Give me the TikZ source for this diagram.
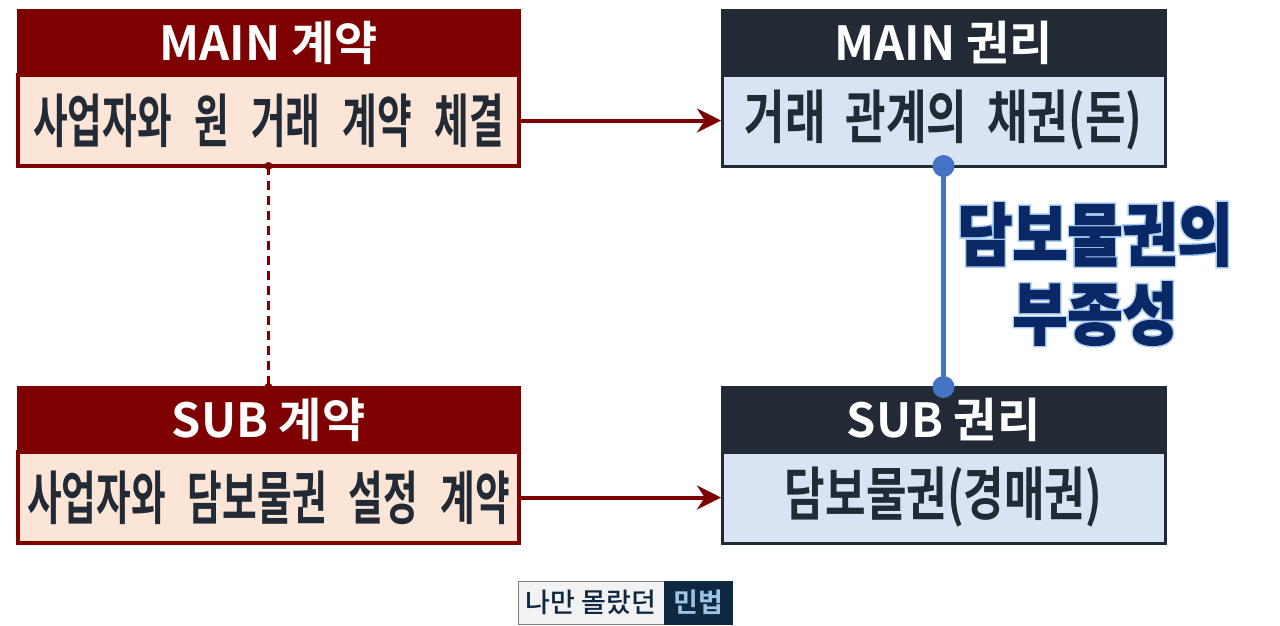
\documentclass[tikz,border=0pt]{standalone}
\usepackage{fontspec}
\setmainfont{Noto Sans CJK KR}
\newfontfamily\krbold{Noto Sans CJK KR Bold}
\newfontfamily\krleft{Noto Sans CJK KR Bold}[FakeStretch=0.65, WordSpace=2.6]
\newfontfamily\krright{Noto Sans CJK KR Bold}[FakeStretch=0.76, WordSpace=2]
\newfontfamily\krfoot{Noto Sans CJK KR Medium}
\newfontfamily\krdisplay{Noto Sans CJK KR Black}[FakeStretch=0.88, FakeBold=1.5]
\newfontfamily\krglow{Noto Sans CJK KR Black}[FakeStretch=0.88, FakeBold=6]
\usetikzlibrary{arrows.meta,positioning,calc}

\definecolor{ctrred}{HTML}{7F0000}
\definecolor{ctrfill}{HTML}{FBE5D6}
\definecolor{rgtnavy}{HTML}{222A35}
\definecolor{rgtfill}{HTML}{DAE3F3}
\definecolor{bodytxt}{HTML}{222A35}
\definecolor{linkblue}{HTML}{4472C4}
\definecolor{accentnavy}{HTML}{0B2866}
\definecolor{glowblue}{HTML}{A9CDF0}
\definecolor{footgray}{HTML}{F2F2F2}
\definecolor{footnavy}{HTML}{0E2841}
\definecolor{footblue}{HTML}{9DC3E6}

\begin{document}
\begin{tikzpicture}[x=1pt, y=-1pt, >={Stealth[length=24pt, width=24pt]},
    ctrhead/.style={fill=ctrred, draw=ctrred, line width=3pt, outer sep=0pt, inner sep=0pt,
        minimum width=501pt, minimum height=65pt, text=white, font=\krbold\fontsize{47}{50}\selectfont},
    ctrbody/.style={fill=ctrfill, draw=ctrred, line width=4pt, outer sep=0pt, inner sep=0pt,
        minimum width=501pt, minimum height=91pt, text=bodytxt, font=\krleft\fontsize{58}{62}\selectfont},
    rgthead/.style={ctrhead, fill=rgtnavy, draw=rgtnavy, minimum width=443pt},
    rgtbody/.style={ctrbody, fill=rgtfill, draw=rgtnavy, line width=3pt, minimum width=443pt,
        font=\krright\fontsize{58}{62}\selectfont},
    flow/.style={->, ctrred, line width=4pt, shorten >=1pt},
    tie/.style={ctrred, line width=2.5pt, dash pattern=on 9pt off 6pt},
    link/.style={linkblue, line width=5pt},
    accent/.style={align=center, inner sep=0pt, text=accentnavy,
        font=\krdisplay\fontsize{68}{79}\selectfont},
    footl/.style={fill=footgray, draw=gray, line width=1pt, outer sep=0pt, inner sep=0pt,
        minimum width=146pt, minimum height=43pt, text=footnavy, font=\krfoot\fontsize{27}{29}\selectfont},
    footr/.style={footl, fill=footnavy, draw=footnavy, minimum width=68pt, text=footblue,
        font=\krbold\fontsize{27}{29}\selectfont}]

    \useasboundingbox (0,0) rectangle (1280,625);

    % --- Contracts (left column) ---
    \node[ctrhead] (mch) at (268.5,42.5) {MAIN 계약};
    \node[ctrbody, below=0pt of mch] (mcb) {사업자와 원 거래 계약 체결};
    \node[ctrhead] (sch) at (268.5,419.5) {SUB 계약};
    \node[ctrbody, below=0pt of sch] (scb) {사업자와 담보물권 설정 계약};

    % --- Rights (right column) ---
    \node[rgthead] (mrh) at (943.5,42.5) {MAIN 권리};
    \node[rgtbody, below=0pt of mrh] (mrb) {거래 관계의 채권(돈)};
    \node[rgthead] (srh) at (943.5,419.5) {SUB 권리};
    \node[rgtbody, below=0pt of srh] (srb) {담보물권(경매권)};

    % --- Contract -> right arrows ---
    \draw[flow] (mcb.east) -- (mrb.west);
    \draw[flow] (scb.east) -- (srb.west);

    % --- Dashed tie between contracts ---
    \draw[tie] (mcb.south) -- (sch.north);
    \fill[ctrred] (mcb.south) circle (4pt) (sch.north) circle (4pt);

    % --- Accessory link between rights ---
    \draw[link] (mrb.south) -- (srh.north);
    \fill[linkblue] (mrb.south) circle (11pt) (srh.north) circle (11pt);

    % --- Glowing label ---
    \coordinate (acc) at (1095,274);
    \node[accent, text=glowblue, font=\krglow\fontsize{68}{79}\selectfont] (glow) at (acc) {담보물권의\\부종성};
    \node[accent] (label) at (acc) {담보물권의\\부종성};

    % --- Footer tag ---
    \node[footl] (fl) at (591,602.5) {나만 몰랐던};
    \node[footr, right=0pt of fl] (fr) {민법};
\end{tikzpicture}
\end{document}
